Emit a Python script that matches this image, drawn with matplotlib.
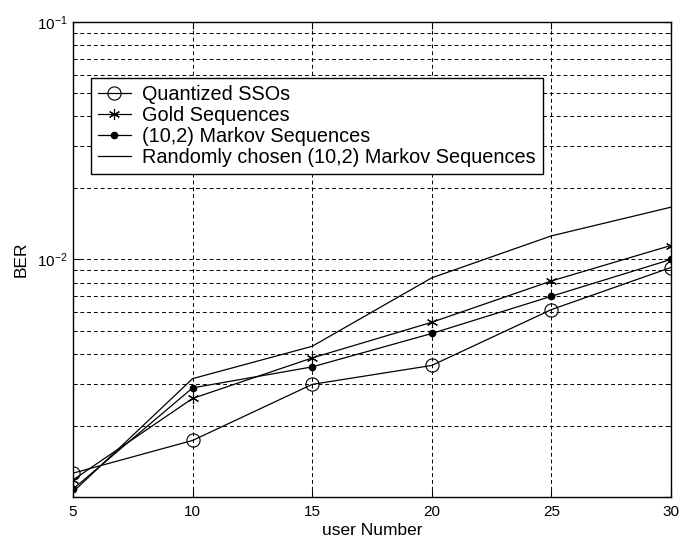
import matplotlib
matplotlib.use("Agg")
import matplotlib.pyplot as plt
from matplotlib.ticker import LogLocator, FixedLocator, NullFormatter

plt.rcParams['font.family'] = ['Liberation Sans', 'DejaVu Sans']
plt.rcParams['mathtext.fontset'] = 'custom'
plt.rcParams['mathtext.rm'] = 'Liberation Sans'
plt.rcParams['mathtext.it'] = 'Liberation Sans'

users = [5, 10, 15, 20, 25, 30]
ber_sso = [1.26e-3, 1.73e-3, 2.98e-3, 3.58e-3, 6.15e-3, 9.25e-3]
ber_gold = [1.18e-3, 2.60e-3, 3.85e-3, 5.44e-3, 8.12e-3, 1.145e-2]
ber_markov = [1.08e-3, 2.88e-3, 3.53e-3, 4.88e-3, 7.0e-3, 1.0e-2]
ber_random = [1.05e-3, 3.15e-3, 4.31e-3, 8.37e-3, 1.257e-2, 1.66e-2]

labels = ['Quantized SSOs', 'Gold Sequences', '(10,2) Markov Sequences',
          'Randomly chosen (10,2) Markov Sequences']
x_ticks = [5, 10, 15, 20, 25, 30]
y_ticks = [1e-3, 1e-2, 1e-1]
y_ticklabels = ['', r'$10^{-2}$', r'$10^{-1}$']

fig = plt.figure(figsize=(6.92, 5.44), dpi=100)
ax = fig.add_axes([0.1055, 0.0864, 0.864, 0.8732])

lw = 0.9
ax.plot(users, ber_sso, color='black', lw=lw, marker='o', ms=9.5,
        mfc='none', mec='black', mew=0.8, label=labels[0])
ax.plot(users, ber_gold, color='black', lw=lw, marker=(6, 2, 0), ms=8,
        mec='black', mew=0.8, label=labels[1])
ax.plot(users, ber_markov, color='black', lw=lw, marker='o', ms=4.5,
        mfc='black', mec='black', label=labels[2])
ax.plot(users, ber_random, color='black', lw=lw, label=labels[3])

ax.set_yscale('log')
ax.set_xlim(5, 30)
ax.set_ylim(1e-3, 1e-1)
ax.xaxis.set_major_locator(FixedLocator(x_ticks))
ax.yaxis.set_major_locator(FixedLocator(y_ticks))
ax.set_yticklabels(y_ticklabels)
ax.yaxis.set_minor_locator(LogLocator(base=10, subs=range(2, 10), numticks=20))
ax.yaxis.set_minor_formatter(NullFormatter())

ax.grid(True, which='major', axis='both', color='black', linestyle=(0, (4, 3)), lw=0.7)
ax.grid(True, which='minor', axis='y', color='black', linestyle=(0, (4, 3)), lw=0.7)

ax.tick_params(which='both', direction='in', top=True, right=True, labelsize=11)
ax.tick_params(which='major', length=5)
ax.tick_params(which='minor', length=3)
ax.tick_params(axis='x', pad=6)
for s in ax.spines.values():
    s.set_linewidth(1.0)

ax.set_xlabel('user Number', fontsize=12.5, labelpad=3)
ax.set_ylabel('BER', fontsize=12.5, labelpad=6)

leg = ax.legend(loc='upper left', bbox_to_anchor=(0.030, 0.882), fontsize=14.3,
                frameon=True, fancybox=False, edgecolor='black', framealpha=1,
                handlelength=1.65, borderpad=0.35, labelspacing=0.1,
                handletextpad=0.57, borderaxespad=0)
leg.get_frame().set_linewidth(1.0)

fig.savefig('out.png', dpi=100)
